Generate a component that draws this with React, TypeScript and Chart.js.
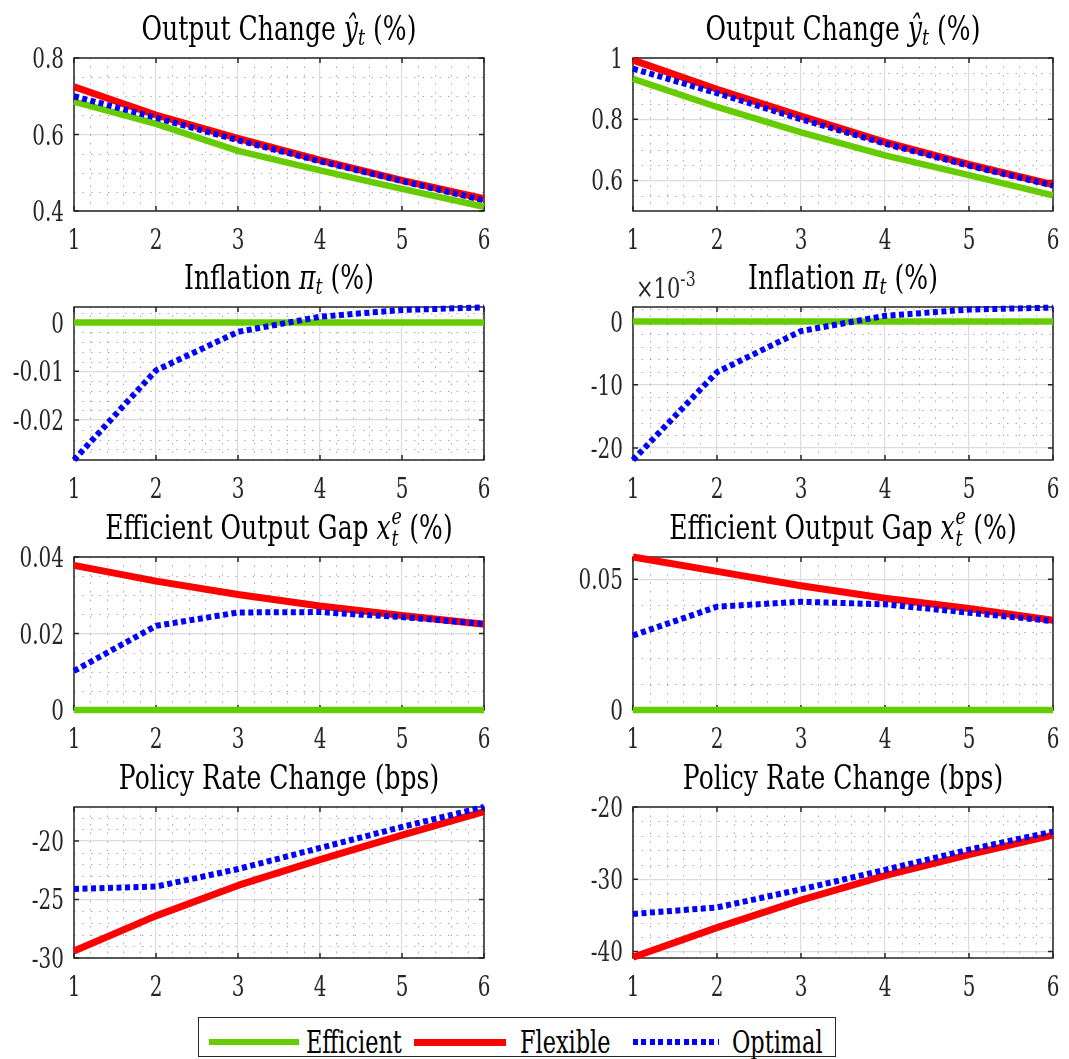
import React, { useEffect, useRef } from "react";
import { Chart, registerables } from "chart.js";

Chart.register(...registerables);

// ---------------- data ----------------
const periods = [1, 2, 3, 4, 5, 6];
const xTicks = [1, 2, 3, 4, 5, 6];
const xTickLabels = ["1", "2", "3", "4", "5", "6"];

// left column
const outputEfficientA = [0.686, 0.628, 0.557, 0.506, 0.458, 0.411];
const outputFlexibleA = [0.725, 0.651, 0.59, 0.533, 0.48, 0.432];
const outputOptimalA = [0.7, 0.644, 0.585, 0.53, 0.478, 0.428];
const inflationEfficientA = [0, 0, 0, 0, 0, 0];
const inflationOptimalA = [-0.0282, -0.0098, -0.0019, 0.0012, 0.0026, 0.0031];
const gapEfficientA = [0, 0, 0, 0, 0, 0];
const gapFlexibleA = [0.0378, 0.0337, 0.0302, 0.0272, 0.0247, 0.0224];
const gapOptimalA = [0.0102, 0.022, 0.0255, 0.0256, 0.0243, 0.0225];
const rateFlexibleA = [-29.4, -26.4, -23.8, -21.6, -19.5, -17.5];
const rateOptimalA = [-24.1, -23.9, -22.4, -20.6, -18.8, -17.1];

// right column
const outputEfficientB = [0.932, 0.84, 0.757, 0.682, 0.617, 0.551];
const outputFlexibleB = [0.993, 0.898, 0.81, 0.725, 0.652, 0.586];
const outputOptimalB = [0.965, 0.885, 0.8, 0.72, 0.648, 0.583];
const inflationEfficientB = [0, 0, 0, 0, 0, 0];
const inflationOptimalB = [-0.0219, -0.008, -0.0015, 0.0009, 0.0019, 0.0022];
const gapEfficientB = [0, 0, 0, 0, 0, 0];
const gapFlexibleB = [0.0585, 0.053, 0.0475, 0.0427, 0.0388, 0.0343];
const gapOptimalB = [0.0285, 0.0395, 0.0414, 0.0404, 0.0372, 0.034];
const rateFlexibleB = [-40.8, -36.7, -32.9, -29.5, -26.6, -23.9];
const rateOptimalB = [-34.8, -33.9, -31.4, -28.7, -25.9, -23.4];

// axis limits and ticks
const outputRangeA = [0.4, 0.8];
const outputTicksA = [0.4, 0.6, 0.8];
const outputTickLabelsA = ["0.4", "0.6", "0.8"];
const outputRangeB = [0.5, 1.0];
const outputTicksB = [0.6, 0.8, 1.0];
const outputTickLabelsB = ["0.6", "0.8", "1"];
const inflationRangeA = [-0.0282, 0.0032];
const inflationTicksA = [-0.02, -0.01, 0];
const inflationTickLabelsA = ["-0.02", "-0.01", "0"];
const inflationRangeB = [-0.0219, 0.0023];
const inflationTicksB = [-0.02, -0.01, 0];
const inflationTickLabelsB = ["-20", "-10", "0"];
const gapRangeA = [0, 0.04];
const gapTicksA = [0, 0.02, 0.04];
const gapTickLabelsA = ["0", "0.02", "0.04"];
const gapRangeB = [0, 0.0585];
const gapTicksB = [0, 0.05];
const gapTickLabelsB = ["0", "0.05"];
const rateRangeA = [-30, -17.1];
const rateTicksA = [-30, -25, -20];
const rateTickLabelsA = ["-30", "-25", "-20"];
const rateRangeB = [-40.9, -20];
const rateTicksB = [-40, -30, -20];
const rateTickLabelsB = ["-40", "-30", "-20"];

const legendNames = ["Efficient", "Flexible", "Optimal"];

// ---------------- styles ----------------
const FONT = "'DejaVu Serif', 'Liberation Serif', serif";
const AXIS_COLOR = "#262626";
const TICK_SIZE = 27;
const TICK_SQUEEZE = 0.74;

const STYLE: Record<string, { color: string; width: number; dash: number[]; order: number }> = {
  Efficient: { color: "#66cc00", width: 6.5, dash: [], order: 1 },
  Flexible: { color: "#ff0000", width: 7, dash: [], order: 2 },
  Optimal: { color: "#0000ff", width: 6, dash: [5, 3.5], order: 0 },
};

const COLS = [
  { left: 74, right: 484 },
  { left: 633, right: 1053 },
];
const ROWS = [
  { top: 58, bottom: 211 },
  { top: 307, bottom: 460 },
  { top: 557, bottom: 710 },
  { top: 807, bottom: 958 },
];
const PADL = 72;
const PADT = 22;
const PADR = 14;
const XH = 46;

type Series = { name: string; values: number[] };
type PanelDef = {
  row: number;
  col: number;
  title: string;
  series: Series[];
  range: number[];
  ticks: number[];
  labels: string[];
  yMinor: number;
};

const panels: PanelDef[] = [
  {
    row: 0, col: 0, title: "output",
    series: [
      { name: "Efficient", values: outputEfficientA },
      { name: "Flexible", values: outputFlexibleA },
      { name: "Optimal", values: outputOptimalA },
    ],
    range: outputRangeA, ticks: outputTicksA, labels: outputTickLabelsA, yMinor: 0.05,
  },
  {
    row: 0, col: 1, title: "output",
    series: [
      { name: "Efficient", values: outputEfficientB },
      { name: "Flexible", values: outputFlexibleB },
      { name: "Optimal", values: outputOptimalB },
    ],
    range: outputRangeB, ticks: outputTicksB, labels: outputTickLabelsB, yMinor: 0.05,
  },
  {
    row: 1, col: 0, title: "inflation",
    series: [
      { name: "Efficient", values: inflationEfficientA },
      { name: "Optimal", values: inflationOptimalA },
    ],
    range: inflationRangeA, ticks: inflationTicksA, labels: inflationTickLabelsA, yMinor: 0.002,
  },
  {
    row: 1, col: 1, title: "inflation",
    series: [
      { name: "Efficient", values: inflationEfficientB },
      { name: "Optimal", values: inflationOptimalB },
    ],
    range: inflationRangeB, ticks: inflationTicksB, labels: inflationTickLabelsB, yMinor: 0.002,
  },
  {
    row: 2, col: 0, title: "gap",
    series: [
      { name: "Efficient", values: gapEfficientA },
      { name: "Flexible", values: gapFlexibleA },
      { name: "Optimal", values: gapOptimalA },
    ],
    range: gapRangeA, ticks: gapTicksA, labels: gapTickLabelsA, yMinor: 0.005,
  },
  {
    row: 2, col: 1, title: "gap",
    series: [
      { name: "Efficient", values: gapEfficientB },
      { name: "Flexible", values: gapFlexibleB },
      { name: "Optimal", values: gapOptimalB },
    ],
    range: gapRangeB, ticks: gapTicksB, labels: gapTickLabelsB, yMinor: 0.01,
  },
  {
    row: 3, col: 0, title: "rate",
    series: [
      { name: "Flexible", values: rateFlexibleA },
      { name: "Optimal", values: rateOptimalA },
    ],
    range: rateRangeA, ticks: rateTicksA, labels: rateTickLabelsA, yMinor: 1,
  },
  {
    row: 3, col: 1, title: "rate",
    series: [
      { name: "Flexible", values: rateFlexibleB },
      { name: "Optimal", values: rateOptimalB },
    ],
    range: rateRangeB, ticks: rateTicksB, labels: rateTickLabelsB, yMinor: 2,
  },
];

// ---------------- plugin: MATLAB-like frame ----------------
const matlabFrame = {
  id: "matlabFrame",
  beforeDatasetsDraw(chart: any, _args: any, opts: any) {
    const { ctx, chartArea: a } = chart;
    const xs = chart.scales.x;
    const ys = chart.scales.y;
    const eps = 1e-9;
    ctx.save();
    ctx.strokeStyle = "rgba(150,150,150,0.8)";
    ctx.lineWidth = 1;
    ctx.setLineDash([1.5, 7]);
    const xStep = opts.xMinor;
    for (let k = Math.ceil(xs.min / xStep - eps); k * xStep <= xs.max + eps; k++) {
      const v = k * xStep;
      if (xs.ticks.some((t: any) => Math.abs(t.value - v) < xStep * 0.01)) continue;
      const px = Math.round(xs.getPixelForValue(v)) + 0.5;
      ctx.beginPath();
      ctx.moveTo(px, a.top);
      ctx.lineTo(px, a.bottom);
      ctx.stroke();
    }
    const yStep = opts.yMinor;
    for (let k = Math.ceil(ys.min / yStep - eps); k * yStep <= ys.max + eps; k++) {
      const v = k * yStep;
      if (ys.ticks.some((t: any) => Math.abs(t.value - v) < yStep * 0.01)) continue;
      const py = Math.round(ys.getPixelForValue(v)) + 0.5;
      ctx.beginPath();
      ctx.moveTo(a.left, py);
      ctx.lineTo(a.right, py);
      ctx.stroke();
    }
    ctx.restore();

    ctx.save();
    ctx.strokeStyle = AXIS_COLOR;
    ctx.lineWidth = 1.5;
    ctx.strokeRect(a.left, a.top, a.right - a.left, a.bottom - a.top);
    const tl = 5;
    ctx.beginPath();
    xs.ticks.forEach((t: any) => {
      const px = xs.getPixelForValue(t.value);
      ctx.moveTo(px, a.bottom);
      ctx.lineTo(px, a.bottom - tl);
      ctx.moveTo(px, a.top);
      ctx.lineTo(px, a.top + tl);
    });
    ys.ticks.forEach((t: any) => {
      const py = ys.getPixelForValue(t.value);
      ctx.moveTo(a.left, py);
      ctx.lineTo(a.left + tl, py);
      ctx.moveTo(a.right, py);
      ctx.lineTo(a.right - tl, py);
    });
    ctx.stroke();
    ctx.restore();
  },
  // tick labels: taken from the scales' own ticks, drawn slightly condensed
  afterDraw(chart: any) {
    const { ctx, chartArea: a } = chart;
    const xs = chart.scales.x;
    const ys = chart.scales.y;
    ctx.save();
    ctx.fillStyle = AXIS_COLOR;
    ctx.font = `${TICK_SIZE}px ${FONT}`;
    ctx.textBaseline = "alphabetic";
    ys.ticks.forEach((t: any) => {
      const py = ys.getPixelForValue(t.value);
      ctx.save();
      ctx.translate(a.left - 10, py + 10);
      ctx.scale(TICK_SQUEEZE, 1);
      ctx.textAlign = "right";
      ctx.fillText(String(t.label), 0, 0);
      ctx.restore();
    });
    xs.ticks.forEach((t: any) => {
      const px = xs.getPixelForValue(t.value);
      ctx.save();
      ctx.translate(px, a.bottom + 38);
      ctx.scale(TICK_SQUEEZE, 1);
      ctx.textAlign = "center";
      ctx.fillText(String(t.label), 0, 0);
      ctx.restore();
    });
    ctx.restore();
  },
};

function Panel({ p }: { p: PanelDef }) {
  const ref = useRef<HTMLCanvasElement>(null);
  const col = COLS[p.col];
  const row = ROWS[p.row];
  const w = col.right - col.left + PADL + PADR;
  const h = row.bottom - row.top + PADT + XH;

  useEffect(() => {
    const datasets = p.series.map((s) => {
      const st = STYLE[s.name];
      return {
        label: s.name,
        data: periods.map((x, i) => ({ x, y: s.values[i] })),
        borderColor: st.color,
        backgroundColor: st.color,
        borderWidth: st.width,
        borderDash: st.dash,
        borderCapStyle: "butt" as const,
        borderJoinStyle: (st.dash.length ? "miter" : "round") as any,
        pointRadius: 0,
        tension: 0,
        fill: false,
        order: st.order,
        clip: 8,
      };
    });
    const tickFont = { family: FONT, size: TICK_SIZE };
    const chart = new Chart(ref.current as HTMLCanvasElement, {
      type: "line",
      data: { datasets },
      plugins: [matlabFrame],
      options: {
        responsive: false,
        maintainAspectRatio: false,
        animation: false,
        events: [],
        layout: { padding: { left: 0, top: PADT, right: PADR, bottom: 0 } },
        plugins: {
          legend: { display: false },
          tooltip: { enabled: false },
          title: { display: false },
          matlabFrame: { xMinor: 0.2, yMinor: p.yMinor },
        } as any,
        scales: {
          x: {
            type: "linear",
            min: 1,
            max: 6,
            afterBuildTicks: (s: any) => {
              s.ticks = xTicks.map((v) => ({ value: v }));
            },
            afterFit: (s: any) => {
              s.height = XH;
            },
            grid: { color: "#dcdcdc", lineWidth: 1.2, drawTicks: false },
            border: { display: false },
            ticks: {
              display: false,
              autoSkip: false,
              maxRotation: 0,
              color: AXIS_COLOR,
              font: tickFont,
              callback: (_v: any, i: number) => xTickLabels[i],
            },
          },
          y: {
            type: "linear",
            min: p.range[0],
            max: p.range[1],
            afterBuildTicks: (s: any) => {
              s.ticks = p.ticks.map((v) => ({ value: v }));
            },
            afterFit: (s: any) => {
              s.width = PADL;
            },
            grid: { color: "#dcdcdc", lineWidth: 1.2, drawTicks: false },
            border: { display: false },
            ticks: {
              display: false,
              autoSkip: false,
              color: AXIS_COLOR,
              font: tickFont,
              callback: (_v: any, i: number) => p.labels[i],
            },
          },
        },
      } as any,
    });
    return () => chart.destroy();
  }, []);

  return (
    <canvas
      ref={ref}
      width={w}
      height={h}
      style={{ position: "absolute", left: col.left - PADL, top: row.top - PADT, width: w, height: h }}
    />
  );
}

const TITLE_SIZE = 33;

function TitleText({ kind }: { kind: string }) {
  const sub: React.CSSProperties = { fontSize: "0.7em", verticalAlign: "-0.22em", lineHeight: 0 };
  if (kind === "output")
    return (
      <>
        Output Change <i>ŷ</i>
        <i style={sub}>t</i> (%)
      </>
    );
  if (kind === "inflation")
    return (
      <>
        Inflation <i>π</i>
        <i style={sub}>t</i> (%)
      </>
    );
  if (kind === "gap")
    return (
      <>
        Efficient Output Gap <i>x</i>
        <span style={{ position: "relative", display: "inline-block", width: "0.42em" }}>
          <i style={{ position: "absolute", left: 1, top: -34, fontSize: 23, lineHeight: "23px" }}>e</i>
          <i style={{ position: "absolute", left: 1, top: -12, fontSize: 23, lineHeight: "23px" }}>t</i>
        </span>{" "}
        (%)
      </>
    );
  return <>Policy Rate Change (bps)</>;
}

function Title({ p }: { p: PanelDef }) {
  const col = COLS[p.col];
  const row = ROWS[p.row];
  const baselineGap = 18;
  return (
    <div
      style={{
        position: "absolute",
        left: col.left - 40,
        width: col.right - col.left + 80,
        top: row.top - baselineGap - 28,
        textAlign: "center",
        fontFamily: FONT,
        fontSize: TITLE_SIZE,
        lineHeight: `${TITLE_SIZE}px`,
        color: "#000",
        whiteSpace: "nowrap",
        transform: "scaleX(0.76)",
        transformOrigin: "center",
      }}
    >
      <TitleText kind={p.title} />
    </div>
  );
}

function Legend() {
  const box: React.CSSProperties = {
    position: "absolute",
    left: 198,
    top: 1017,
    width: 638,
    height: 40,
    boxSizing: "border-box",
    border: `1.5px solid ${AXIS_COLOR}`,
    background: "#fff",
  };
  const items = [
    { name: legendNames[0], lineLeft: 10, lineWidth: 90, textLeft: 107 },
    { name: legendNames[1], lineLeft: 215, lineWidth: 92, textLeft: 321 },
    { name: legendNames[2], lineLeft: 434, lineWidth: 86, textLeft: 533 },
  ];
  return (
    <div style={box}>
      {items.map((it) => {
        const st = STYLE[it.name];
        const bg = st.dash.length
          ? `repeating-linear-gradient(90deg, ${st.color} 0px, ${st.color} 5px, transparent 5px, transparent 8.5px)`
          : st.color;
        return (
          <React.Fragment key={it.name}>
            <div
              style={{
                position: "absolute",
                left: it.lineLeft,
                top: 24 - st.width / 2,
                width: it.lineWidth,
                height: st.width,
                background: bg,
              }}
            />
            <div
              style={{
                position: "absolute",
                left: it.textLeft,
                top: 8,
                fontFamily: FONT,
                fontSize: 32,
                lineHeight: "32px",
                color: "#000",
                whiteSpace: "nowrap",
                transform: "scaleX(0.7)",
                transformOrigin: "left",
              }}
            >
              {it.name}
            </div>
          </React.Fragment>
        );
      })}
    </div>
  );
}

export default function App() {
  return (
    <div
      style={{
        position: "absolute",
        left: 0,
        top: 0,
        width: 1069,
        height: 1059,
        overflow: "hidden",
        background: "#fff",
      }}
    >
      {panels.map((p, i) => (
        <Panel key={i} p={p} />
      ))}
      {panels.map((p, i) => (
        <Title key={"t" + i} p={p} />
      ))}
      <div
        style={{
          position: "absolute",
          left: 636,
          top: 275,
          fontFamily: FONT,
          fontSize: 28,
          lineHeight: "28px",
          color: AXIS_COLOR,
          whiteSpace: "nowrap",
          transform: "scaleX(0.75)",
          transformOrigin: "left",
        }}
      >
        ×10
        <span style={{ fontSize: 21, verticalAlign: "0.55em", lineHeight: 0 }}>-3</span>
      </div>
      <Legend />
    </div>
  );
}
